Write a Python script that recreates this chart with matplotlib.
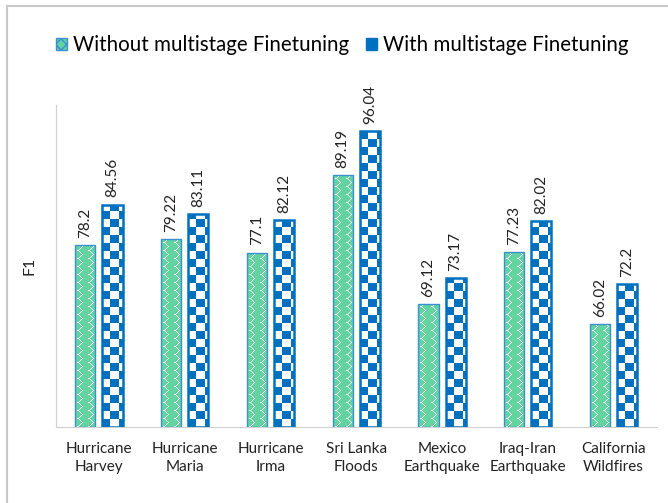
import numpy as np
import matplotlib.pyplot as plt
from matplotlib.lines import Line2D
from matplotlib.patches import Patch

plt.rcParams['font.family'] = ['Lato', 'DejaVu Sans']

# data
events = ["Hurricane\nHarvey", "Hurricane\nMaria", "Hurricane\nIrma", "Sri Lanka\nFloods",
          "Mexico\nEarthquake", "Iraq-Iran\nEarthquake", "California\nWildfires"]
without_ms = [78.2, 79.22, 77.1, 89.19, 69.12, 77.23, 66.02]
with_ms = [84.56, 83.11, 82.12, 96.04, 73.17, 82.02, 72.2]
without_lbl = ["78.2", "79.22", "77.1", "89.19", "69.12", "77.23", "66.02"]
with_lbl = ["84.56", "83.11", "82.12", "96.04", "73.17", "82.02", "72.2"]

green = "#63d3a0"
blue = "#0070c0"
ymin, ymax = 50, 100

fig = plt.figure(figsize=(6.68, 5.03), dpi=100)
ax = fig.add_axes([0.0838, 0.151, 0.899, 0.640])

x = np.arange(len(events))
w = 0.235
off = 0.158
px_per_unit = 322 / (ymax - ymin)

green_rgba = np.array([0.39, 0.83, 0.63, 1.0])
blue_rgba = np.array([0.0, 0.44, 0.75, 1.0])
white = np.array([1.0, 1.0, 1.0, 1.0])


def fill_pattern(bar, kind):
    # paint a pixel-sized pattern inside the bar, clipped to the bar shape
    x0 = bar.get_x()
    x1 = x0 + bar.get_width()
    h = bar.get_height()
    nrows = max(1, int(round(h * px_per_unit)))
    ncols = 20
    r = np.arange(nrows)[:, None]
    c = np.arange(ncols)[None, :]
    img = np.zeros((nrows, ncols, 4))
    if kind == "checker":
        mask = ((r // 8) + (c // 8)) % 2 == 1
        img[:] = blue_rgba
        img[mask] = white
    else:
        # white zigzag lines
        rr = r % 8
        zz = np.where(rr < 4, rr, 8 - rr)
        mask = ((c % 10) == (zz + 3)) | ((c % 10) == (zz + 2)) & (rr == 0)
        img[:] = green_rgba
        img[mask] = white
    im = ax.imshow(img, extent=(x0, x1, ymin, ymin + nrows / px_per_unit),
                   origin="lower", interpolation="nearest", aspect="auto", zorder=3)
    im.set_clip_path(bar)


g_bars = ax.bar(x - off, np.array(without_ms) - ymin, w, bottom=ymin, color=green,
                edgecolor="none", zorder=2)
for bar in g_bars:
    fill_pattern(bar, "zigzag")
ax.bar(x - off, np.array(without_ms) - ymin, w, bottom=ymin, facecolor="none",
       edgecolor="#3c8fd0", linewidth=1.0, zorder=4)

b_bars = ax.bar(x + off, np.array(with_ms) - ymin, w, bottom=ymin, color=blue,
                edgecolor="none", zorder=2)
for bar in b_bars:
    fill_pattern(bar, "checker")
ax.bar(x + off, np.array(with_ms) - ymin, w, bottom=ymin, facecolor="none",
       edgecolor=blue, linewidth=1.8, zorder=4)

# value labels
pad = 1.1
for xi, v, s in zip(x - off, without_ms, without_lbl):
    ax.text(xi, v + pad, s, rotation=90, ha="center", va="bottom", fontsize=11, color="#222222")
for xi, v, s in zip(x + off, with_ms, with_lbl):
    ax.text(xi, v + pad, s, rotation=90, ha="center", va="bottom", fontsize=11, color="#222222")

ax.set_xlim(-0.5, len(events) - 0.5)
ax.set_ylim(ymin, ymax)
ax.set_xticks(x)
ax.set_xticklabels(events, fontsize=11, color="#222222", linespacing=1.3)
ax.tick_params(axis="x", length=0, pad=11)
ax.set_yticks([])
ax.set_ylabel("F1", fontsize=11.5, color="#222222", labelpad=14)

for s in ["top", "right"]:
    ax.spines[s].set_visible(False)
ax.spines["left"].set_color("#d0d0d0")
ax.spines["bottom"].set_color("#d0d0d0")

handles = [Patch(facecolor=green, edgecolor="#3c8fd0", hatch="xxx"),
           Patch(facecolor=blue, edgecolor=blue)]
fig.legend(handles, ["Without multistage Finetuning", "With multistage Finetuning"],
           loc="center", bbox_to_anchor=(0.512, 0.91), ncol=2, frameon=False,
           fontsize=14.8, handlelength=0.55, handleheight=0.55, handletextpad=0.3,
           columnspacing=0.8)

# outer frame (left and top edges visible)
fig.add_artist(Line2D([0.0105, 0.0105], [0, 0.988], color="#c8c8c8", lw=1.5,
                      transform=fig.transFigure))
fig.add_artist(Line2D([0.0105, 1.0], [0.988, 0.988], color="#c8c8c8", lw=1.5,
                      transform=fig.transFigure))

fig.savefig("out.png", dpi=100)
